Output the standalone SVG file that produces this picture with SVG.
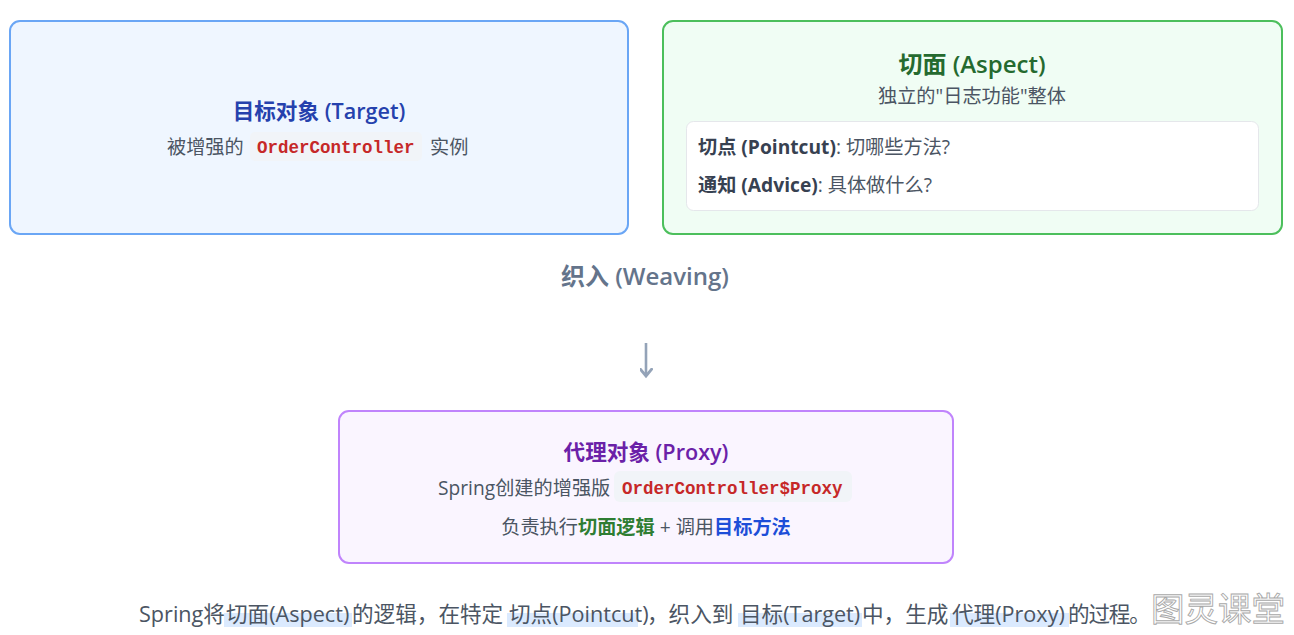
<svg xmlns="http://www.w3.org/2000/svg" width="1294" height="635" viewBox="0 0 1294 635">
  <defs>
    <style>
      .t { font-family: "Open Sans", "Noto Sans CJK SC", sans-serif; }
      .b { font-weight: 700; }
      .n { font-weight: 600; }
      .body { font-size: 19.2px; fill: #4b5563; }
      .code { font-family: "Liberation Mono", "DejaVu Sans Mono", monospace; font-weight: 700; font-size: 17.5px; fill: #c62828; }
      .pill { fill: #f1f4f8; }
      .hl { fill: #dbeafe; }
    </style>
    <marker id="ah" viewBox="0 0 12 10" refX="6" refY="5" markerWidth="6" markerHeight="5" orient="auto" markerUnits="strokeWidth">
      <path d="M0,0 L6,5 L0,10" fill="none" stroke="#94a3b8" stroke-width="2.2"/>
    </marker>
  </defs>
  <rect width="1294" height="635" fill="#ffffff"/>

  <g id="target">
    <rect x="10" y="21" width="618" height="213" rx="10" fill="#eff6ff" stroke="#6aa6f5" stroke-width="2"/>
    <text class="t" x="319" y="118.5" text-anchor="middle" font-size="21.6" fill="#2541ad"><tspan class="b">目标对象</tspan><tspan class="n"> (Target)</tspan></text>
    <text class="t body" x="167" y="153.7">被增强的</text>
    <rect class="pill" x="250" y="132" width="172" height="29" rx="5"/>
    <text class="code" x="257" y="152.5">OrderController</text>
    <text class="t body" x="430" y="153.7">实例</text>
  </g>

  <g id="aspect">
    <rect x="663" y="21" width="619" height="213" rx="10" fill="#f0fdf4" stroke="#4cbf5c" stroke-width="2"/>
    <text class="t" x="972" y="73.4" text-anchor="middle" font-size="24" fill="#256a2f"><tspan class="b">切面</tspan><tspan class="n"> (Aspect)</tspan></text>
    <text class="t body" x="972" y="102.7" text-anchor="middle">独立的"日志功能"整体</text>
    <rect x="686.5" y="121.5" width="572" height="89" rx="7" fill="#ffffff" stroke="#e5e7eb" stroke-width="1"/>
    <text class="t body" x="698" y="153.7"><tspan class="b" fill="#374151">切点 (Pointcut)</tspan>: 切哪些方法?</text>
    <text class="t body" x="698" y="191.7"><tspan class="b" fill="#374151">通知 (Advice)</tspan>: 具体做什么?</text>
  </g>

  <g id="weaving">
    <text class="t" x="645" y="285.4" text-anchor="middle" font-size="24" fill="#64748b"><tspan class="b">织入</tspan><tspan class="n"> (Weaving)</tspan></text>
  </g>

  <g id="connectors">
    <line x1="646" y1="343" x2="646" y2="376" stroke="#94a3b8" stroke-width="2.6" marker-end="url(#ah)"/>
  </g>

  <g id="proxy">
    <rect x="339" y="411" width="614" height="152" rx="10" fill="#faf5ff" stroke="#c084fc" stroke-width="2"/>
    <text class="t" x="646" y="459.6" text-anchor="middle" font-size="21.6" fill="#6b21a8"><tspan class="b">代理对象</tspan><tspan class="n"> (Proxy)</tspan></text>
    <text class="t body" x="438" y="494.7">Spring创建的增强版</text>
    <rect class="pill" x="614" y="471" width="238" height="31" rx="6"/>
    <text class="code" x="622" y="493.5">OrderController$Proxy</text>
    <text class="t body" x="646" y="533.7" text-anchor="middle">负责执行<tspan class="b" fill="#2e7d32">切面逻辑</tspan> + 调用<tspan class="b" fill="#1d4ed8">目标方法</tspan></text>
  </g>

  <g id="summary">
    <rect class="hl" x="224" y="613" width="128" height="14"/>
    <rect class="hl" x="507" y="613" width="131" height="14"/>
    <rect class="hl" x="738" y="613" width="124" height="14"/>
    <rect class="hl" x="950" y="613" width="119" height="14"/>
    <text class="t" font-size="21.6" fill="#4b5563" y="621.5"><tspan x="139">Spring将</tspan><tspan x="226">切面(Aspect)</tspan><tspan x="352">的逻辑，在特定</tspan><tspan x="509">切点(Pointcut)</tspan><tspan x="647">，织入到</tspan><tspan x="740">目标(Target)</tspan><tspan x="862">中，生成</tspan><tspan x="952">代理(Proxy)</tspan><tspan x="1068" letter-spacing="-1.2">的过程。</tspan></text>
    <text class="t" x="1151" y="620.5" font-size="33.5" fill="#ffffff" stroke="#a8a8a8" stroke-width="0.9">图灵课堂</text>
  </g>
</svg>
